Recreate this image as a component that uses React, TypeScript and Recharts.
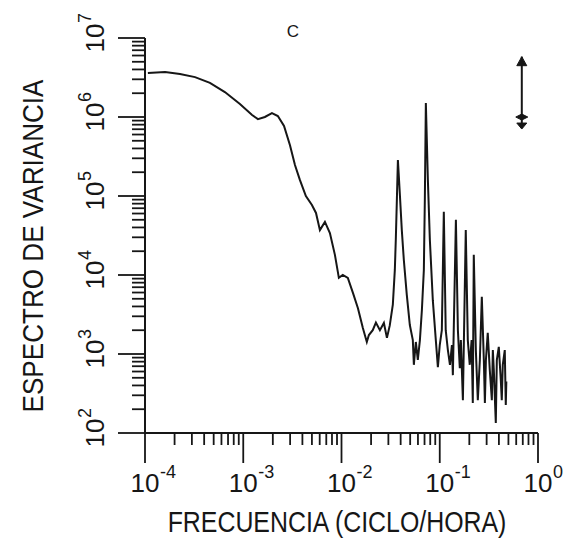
import React from 'react';
import { LineChart, Line, XAxis, YAxis, ReferenceLine } from 'recharts';

// frecuencia (ciclo/hora) and espectro de variancia
const FREQ = [
    1.07e-4, 1.6e-4, 2.27e-4, 3.23e-4, 4.58e-4, 6.5e-4, 9.25e-4,
    1.23e-3, 1.41e-3, 1.66e-3, 1.96e-3, 2.25e-3, 2.6e-3, 2.99e-3, 3.36e-3, 3.77e-3, 4.34e-3,
    5.0e-3, 5.5e-3, 6.03e-3, 6.78e-3, 7.62e-3, 8.57e-3, 9.4e-3,
    1.03e-2, 1.16e-2, 1.31e-2, 1.47e-2, 1.65e-2, 1.81e-2, 1.9e-2, 2.08e-2, 2.24e-2, 2.46e-2,
    2.7e-2, 2.9e-2, 3.1e-2, 3.33e-2, 3.49e-2, 3.57e-2, 3.66e-2, 3.75e-2, 3.93e-2, 4.11e-2,
    4.31e-2, 4.62e-2, 4.96e-2, 5.32e-2, 5.45e-2, 5.71e-2, 5.98e-2, 6.28e-2, 6.58e-2, 6.89e-2,
    7.05e-2, 7.22e-2, 7.57e-2, 7.93e-2, 8.5e-2, 9.12e-2, 9.57e-2,
    0.1, 0.105, 0.11, 0.115, 0.121, 0.127, 0.133, 0.136, 0.146, 0.153, 0.16, 0.164, 0.172,
    0.184, 0.193, 0.202, 0.211, 0.217, 0.222, 0.233, 0.244, 0.256, 0.268, 0.281, 0.288, 0.295,
    0.308, 0.323, 0.339, 0.347, 0.355, 0.372, 0.381, 0.399, 0.418, 0.428, 0.438, 0.459, 0.47, 0.476,
];

const SPEC = [
    3.6e6, 3.7e6, 3.5e6, 3.2e6, 2.7e6, 2.07e6, 1.46e6,
    1.06e6, 9.4e5, 1.0e6, 1.12e6, 1.03e6, 7.7e5, 4.4e5, 2.47e5, 1.6e5, 1.0e5,
    7.7e4, 6.1e4, 3.7e4, 4.7e4, 3.4e4, 1.8e4, 9.2e3,
    1.0e4, 9.2e3, 5.9e3, 3.8e3, 2.13e3, 1.42e3, 1.74e3, 2.0e3, 2.5e3, 2.0e3,
    2.47e3, 1.6e3, 2.3e3, 4.2e3, 1.16e4, 2.8e4, 8.9e4, 2.86e5, 1.03e5, 3.7e4,
    1.55e4, 5.6e3, 2.33e3, 1.5e3, 7.3e2, 1.42e3, 8.4e2, 1.5e3, 3.6e3, 1.16e4,
    8.9e4, 1.5e6, 1.6e5, 2.8e4, 4.8e3, 1.5e3, 6.8e2,
    1.3e3, 2.0e3, 6.3e4, 2.0e3, 1.12e3, 7.3e2, 1.3e3, 5.4e2, 5.0e4, 2.0e3, 6.6e2, 1.5e3, 2.6e2,
    3.7e4, 1.5e3, 7.3e2, 1.5e3, 2.4e2, 1.8e4, 1.12e3, 2.6e2, 8.4e2, 5.3e3, 8.4e2, 2.4e2, 8.4e2,
    1.85e3, 6.3e2, 2.6e2, 1.12e3, 6.3e2, 1.34e2, 8.4e2, 1.23e3, 4.7e2, 2.6e2, 7.3e2, 1.12e3, 2.26e2, 4.5e2,
];

// log decades and minor multipliers for the tick marks
const X_DECADES = [-4, -3, -2, -1, 0];
const Y_DECADES = [2, 3, 4, 5, 6, 7];
const MINOR = [2, 3, 4, 5, 6, 7, 8, 9];

// confidence interval bar (top right)
const CI_FREQ = 0.684;
const CI_TOP = 5.8e6;
const CI_BOTTOM = 7.25e5;

const FONT = '"Liberation Sans", Arial, sans-serif';
const INK = '#161616';

const buildTicks = (decades: number[]) => {
    const out: number[] = [];
    decades.forEach((d, i) => {
        out.push(Math.pow(10, d));
        if (i < decades.length - 1) MINOR.forEach(m => out.push(m * Math.pow(10, d)));
    });
    return out;
};

const isMajor = (v: number) => Math.abs(Math.log10(v) - Math.round(Math.log10(v))) < 1e-6;

const data = FREQ.map((f, i) => ({ f, s: SPEC[i] }));

const XTick = (props: any) => {
    const { x, y, payload } = props;
    const major = isMajor(payload.value);
    const exp = Math.round(Math.log10(payload.value));
    return (
        <g>
            <line x1={x} y1={y} x2={x} y2={y + (major ? 30 : 12)} stroke={INK} strokeWidth={1.8} />
            {major && (
                <>
                    <text x={x} y={y + 59} textAnchor="middle" fontSize={26} fill={INK} fontFamily={FONT}>10</text>
                    <text x={x + 15} y={y + 45} textAnchor="start" fontSize={18} fill={INK} fontFamily={FONT}>{exp}</text>
                </>
            )}
        </g>
    );
};

const YTick = (props: any) => {
    const { x, y, payload } = props;
    const major = isMajor(payload.value);
    const exp = Math.round(Math.log10(payload.value));
    return (
        <g>
            <line x1={x} y1={y} x2={x - (major ? 27 : 13)} y2={y} stroke={INK} strokeWidth={1.8} />
            {major && (
                <g transform={`translate(${x - 41},${y}) rotate(-90)`}>
                    <text x={0} y={0} textAnchor="middle" fontSize={26} fill={INK} fontFamily={FONT}>10</text>
                    <text x={15} y={-13} textAnchor="start" fontSize={18} fill={INK} fontFamily={FONT}>{exp}</text>
                </g>
            )}
        </g>
    );
};

const CIBar = (props: any) => {
    const { x1, y1, y2 } = props;
    const top = Math.min(y1, y2);
    const bot = Math.max(y1, y2);
    return (
        <g stroke={INK} fill={INK}>
            <line x1={x1} y1={top} x2={x1} y2={bot} strokeWidth={2} />
            <path d={`M${x1},${top} L${x1 - 5},${top + 9} L${x1 + 5},${top + 9} Z`} />
            <path d={`M${x1 - 6},${bot - 11} L${x1},${bot - 14} L${x1 + 6},${bot - 11} L${x1},${bot - 8} Z`} />
            <path d={`M${x1 - 5},${bot - 5} L${x1 + 5},${bot - 5} L${x1},${bot + 1} Z`} />
        </g>
    );
};

const App: React.FC = () => {
    return (
        <div style={{ position: 'relative', width: 559, height: 540, background: '#fff' }}>
            <LineChart width={559} height={540} data={data} margin={{ top: 30, right: 29, bottom: 55, left: 77 }}>
                <XAxis
                    dataKey="f"
                    type="number"
                    scale="log"
                    domain={[1e-4, 1]}
                    allowDataOverflow
                    ticks={buildTicks(X_DECADES)}
                    interval={0}
                    tickSize={0}
                    tickMargin={0}
                    tickLine={false}
                    tick={<XTick />}
                    height={60}
                    axisLine={{ stroke: INK, strokeWidth: 2 }}
                />
                <YAxis
                    type="number"
                    scale="log"
                    domain={[100, 1e7]}
                    allowDataOverflow
                    ticks={buildTicks(Y_DECADES)}
                    interval={0}
                    tickSize={0}
                    tickMargin={0}
                    tickLine={false}
                    tick={<YTick />}
                    width={60}
                    axisLine={{ stroke: INK, strokeWidth: 2 }}
                />
                <ReferenceLine
                    segment={[{ x: CI_FREQ, y: CI_TOP }, { x: CI_FREQ, y: CI_BOTTOM }]}
                    ifOverflow="visible"
                    shape={<CIBar />}
                />
                <Line
                    dataKey="s"
                    type="linear"
                    stroke={INK}
                    strokeWidth={2}
                    dot={false}
                    isAnimationActive={false}
                />
            </LineChart>

            {/* titles and panel letter */}
            <svg width={559} height={540} style={{ position: 'absolute', left: 0, top: 0, pointerEvents: 'none' }}>
                <text x={285} y={29} textAnchor="middle" fontSize={17} fill={INK} fontFamily={FONT}>C</text>
                <g transform="translate(35,238) rotate(-90) scale(0.9,1)">
                    <text x={0} y={0} textAnchor="middle" fontSize={29} fill={INK} fontFamily={FONT}>
                        ESPECTRO DE VARIANCIA
                    </text>
                </g>
                <g transform="translate(329,524) scale(0.83,1)">
                    <text x={0} y={0} textAnchor="middle" fontSize={30} fill={INK} fontFamily={FONT}>
                        FRECUENCIA (CICLO/HORA)
                    </text>
                </g>
            </svg>
        </div>
    );
};

export default App;
